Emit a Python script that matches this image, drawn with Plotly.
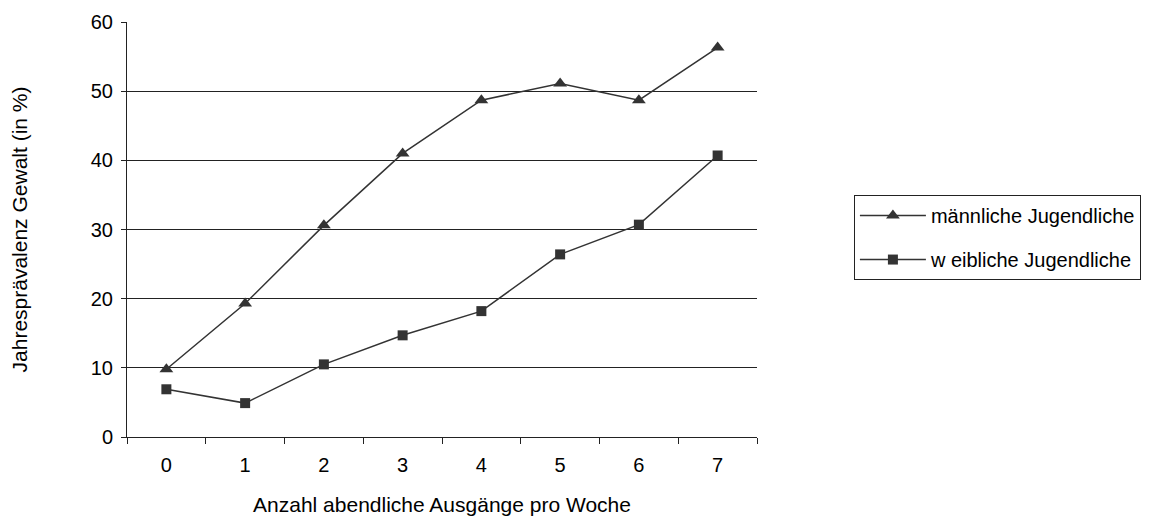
import plotly.graph_objects as go

categories = ["0", "1", "2", "3", "4", "5", "6", "7"]
maennlich = [9.8, 19.3, 30.6, 41.0, 48.7, 51.1, 48.7, 56.3]
weiblich = [6.9, 4.9, 10.5, 14.7, 18.2, 26.4, 30.7, 40.7]
series_names = ["männliche Jugendliche", "w eibliche Jugendliche"]
y_ticks = [0, 10, 20, 30, 40, 50, 60]

FONT = "Liberation Sans, Arial, sans-serif"
FS = 20
FT = 21
LINE = "#333333"
AX = "#222222"

fig = go.Figure()
fig.add_trace(go.Scatter(
    x=categories, y=maennlich, name=series_names[0], mode="lines+markers",
    legendgroup="m",
    line=dict(color=LINE, width=1.5),
    marker=dict(symbol="triangle-up", size=12, color=LINE),
))
fig.add_trace(go.Scatter(
    x=categories, y=weiblich, name=series_names[1], mode="lines+markers",
    legendgroup="w",
    line=dict(color=LINE, width=1.5),
    marker=dict(symbol="square", size=10, color=LINE),
))

fig.update_layout(
    width=1144, height=511,
    margin=dict(l=119, r=394, t=14, b=82),
    paper_bgcolor="white", plot_bgcolor="white",
    font=dict(family=FONT, size=FS, color="black"),
    showlegend=True,
    legend=dict(
        x=1.152, y=0.583, xanchor="left", yanchor="top",
        bordercolor=AX, borderwidth=1,
        font=dict(family=FONT, size=FS, color="black"),
        traceorder="grouped", tracegroupgap=15,
        itemwidth=66,
    ),
    xaxis=dict(
        type="category", range=[-0.5, 7.5],
        tickson="boundaries", ticks="outside", ticklen=6, tickcolor=AX,
        showline=True, linecolor=AX, linewidth=1,
        showgrid=False, zeroline=False,
        ticklabelstandoff=10,
        title=dict(text="Anzahl abendliche Ausgänge pro Woche", standoff=22,
                   font=dict(family=FONT, size=FT)),
        tickfont=dict(family=FONT, size=FS),
        automargin=False,
    ),
    yaxis=dict(
        range=[0, 60], tickvals=y_ticks,
        ticks="outside", ticklen=5, tickcolor=AX,
        showline=True, linecolor=AX, linewidth=1,
        showgrid=True, gridcolor=AX, gridwidth=1,
        zeroline=False,
        ticklabelstandoff=4,
        title=dict(text="Jahresprävalenz Gewalt (in %)", standoff=60,
                   font=dict(family=FONT, size=FT)),
        tickfont=dict(family=FONT, size=FS),
        automargin=False,
    ),
)

fig.write_html("out.html")
